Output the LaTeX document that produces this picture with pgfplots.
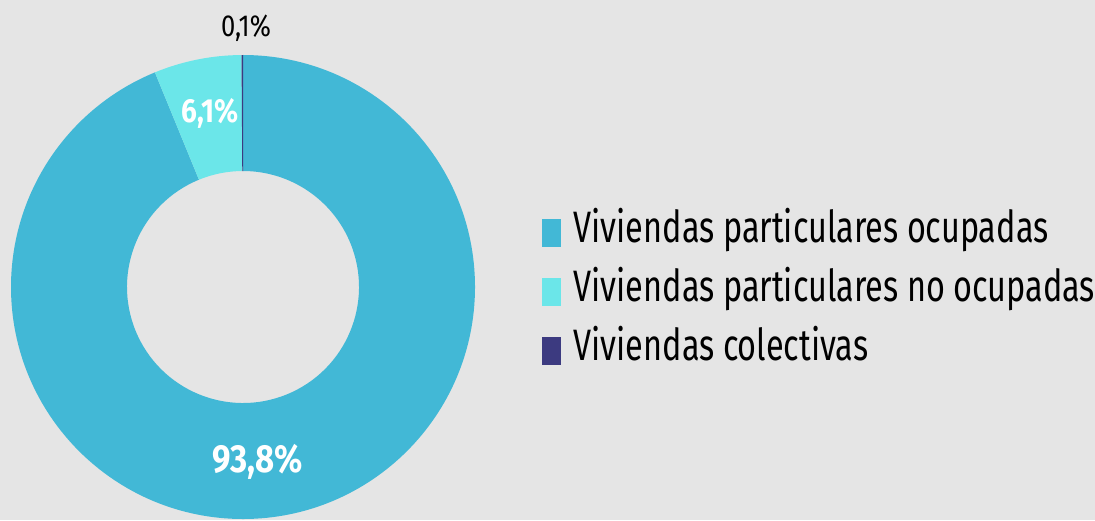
\documentclass[border=0pt]{standalone}
\usepackage{fontspec}
\setmainfont{Fira Sans}[FakeStretch=0.737]
\newfontfamily\lblfont{Fira Sans}[FakeStretch=0.84]
\usepackage{pgfplots}
\usepackage{pgfplotstable}
\pgfplotsset{compat=1.18}
\definecolor{bg}{HTML}{E5E5E5}
\definecolor{ocup}{HTML}{42B8D6}
\definecolor{noocup}{HTML}{6BE6E9}
\definecolor{colec}{HTML}{3C3A80}

% share of dwellings, clockwise from 12 o'clock
\pgfplotstableread{
share
93.8
6.1
0.1
}\viviendas

\pgfplotstablegetelem{0}{share}\of\viviendas \let\va\pgfplotsretval
\pgfplotstablegetelem{1}{share}\of\viviendas \let\vb\pgfplotsretval
\pgfplotstablegetelem{2}{share}\of\viviendas \let\vc\pgfplotsretval
\pgfmathsetmacro{\aA}{90}
\pgfmathsetmacro{\aB}{\aA-3.6*\va}
\pgfmathsetmacro{\aC}{\aB-3.6*\vb}
\pgfmathsetmacro{\aD}{\aC-3.6*\vc}

\newcommand{\ring}[3]{% color, start, end
  \fill[#1] (axis cs:{cos(#2)},{sin(#2)}) arc[start angle=#2, end angle=#3, radius=116pt]
    -- (axis cs:{0.5*cos(#3)},{0.5*sin(#3)}) arc[start angle=#3, end angle=#2, radius=58pt] -- cycle;}

\begin{document}
\begin{tikzpicture}
\useasboundingbox (0,0) rectangle (547.5pt,260pt);
\fill[bg] (0,0) rectangle (547.5pt,260pt);
\begin{axis}[
    at={(121.5pt,116.5pt)}, anchor=origin,
    scale only axis, width=232pt, height=232pt,
    xmin=-1, xmax=1, ymin=-1, ymax=1,
    axis lines=none, clip=false,
    legend style={at={(1.1444,0.49)}, anchor=west, draw=none, fill=none,
      font=\fontsize{22}{26}\selectfont, row sep=15.5pt, inner sep=0pt,
      nodes={inner sep=0pt, text height=11pt, text depth=1pt}},
    legend cell align=left,
    legend image code/.code={\fill[#1] (0pt,-6.75pt) rectangle (9pt,6.75pt);},
    /tikz/every odd column/.append style={column sep=6.25pt},
  ]
  \addlegendimage{ocup}\addlegendentry{Viviendas particulares ocupadas}
  \addlegendimage{noocup}\addlegendentry{Viviendas particulares no ocupadas}
  \addlegendimage{colec}\addlegendentry{Viviendas colectivas}
  \ring{ocup}{\aA}{\aB}
  \ring{noocup}{\aB}{\aC}
  \ring{colec}{\aC}{\aD}
  \node[font=\lblfont\fontsize{15.2}{18}\selectfont] at (axis cs:0.013,1.116) {0,1\%};
  \node[white, font=\lblfont\bfseries\fontsize{16.7}{20}\selectfont] at (axis cs:-0.142,0.746) {6,1\%};
  \node[white, font=\lblfont\bfseries\fontsize{19.6}{23}\selectfont] at (axis cs:0.065,-0.754) {93,8\%};
\end{axis}
\end{tikzpicture}
\end{document}
